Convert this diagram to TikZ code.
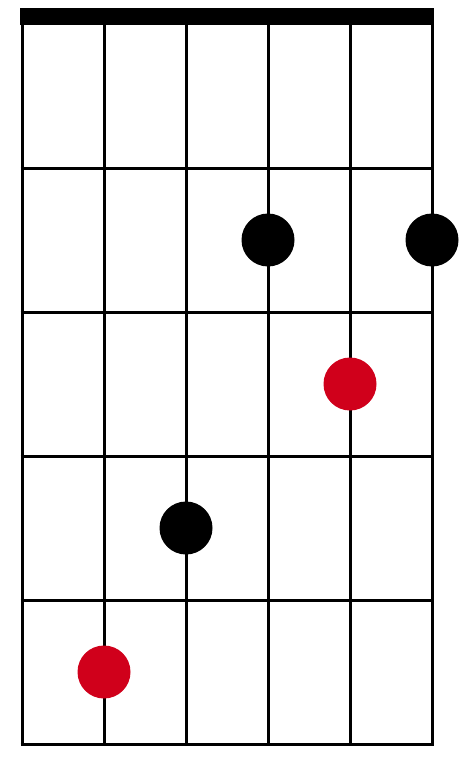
\documentclass[tikz,border=0pt]{standalone}
\definecolor{rootred}{RGB}{208,0,27}
\begin{document}
\begin{tikzpicture}[x=1pt, y=-1pt, line width=3pt]
      \useasboundingbox (0,0) rectangle (460,757);
      \fill (20,8) rectangle (434,25);
      \foreach \s in {0,...,5} \draw (22+82*\s,24) -- (22+82*\s,744);
      \foreach \f in {1,...,5} \draw (20.5,24+144*\f) -- (433.5,24+144*\f);
      \node[fill, circle, minimum size=53, inner sep=0] (a) at (268,240) {};
      \node[fill, circle, minimum size=53, inner sep=0] (b) at (432,240) {};
      \node[fill=rootred, circle, minimum size=53, inner sep=0] (c) at (350,384) {};
      \node[fill, circle, minimum size=53, inner sep=0] (d) at (186,528) {};
      \node[fill=rootred, circle, minimum size=53, inner sep=0] (e) at (104,672) {};
     \end{tikzpicture}
\end{document}
